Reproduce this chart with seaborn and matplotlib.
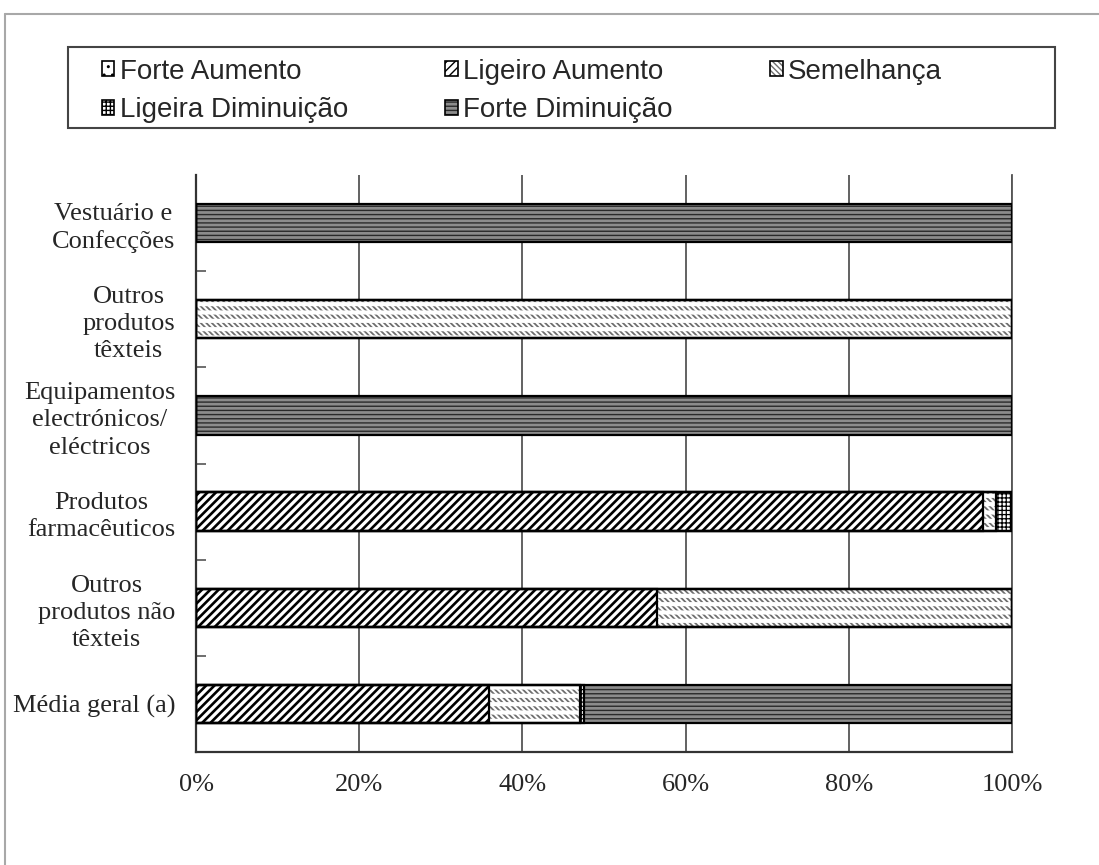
import matplotlib
matplotlib.use("Agg")
import matplotlib.pyplot as plt
from matplotlib.patches import Patch, Rectangle
from matplotlib.lines import Line2D
from matplotlib.legend_handler import HandlerTuple
from matplotlib.ticker import FixedLocator
import pandas as pd
import seaborn as sns

# ---- data (% of respondents) ----
categories = [
    "Vestuário e\nConfecções",
    "Outros\nprodutos\ntêxteis",
    "Equipamentos\nelectrónicos/\neléctricos",
    "Produtos\nfarmacêuticos",
    "Outros\nprodutos não\ntêxteis",
    "Média geral (a)",
]
forte_aumento = [0, 0, 0, 0, 0, 0]
ligeiro_aumento = [0, 0, 0, 96.4, 56.5, 35.9]
semelhanca = [0, 100, 0, 1.6, 43.5, 11.2]
ligeira_diminuicao = [0, 0, 0, 2.0, 0, 0.5]
forte_diminuicao = [100, 0, 100, 0, 0, 52.4]

series_names = ["Forte Aumento", "Ligeiro Aumento", "Semelhança",
                "Ligeira Diminuição", "Forte Diminuição"]
x_ticks = [0, 20, 40, 60, 80, 100]
x_tick_labels = ["0%", "20%", "40%", "60%", "80%", "100%"]

# fill / hatch appearance of each response class
styles = {
    "Forte Aumento": dict(face="white", hatch="..", hc="black", hlw=1.0),
    "Ligeiro Aumento": dict(face="white", hatch="////", hc="black", hlw=1.9),
    "Semelhança": dict(face="white", hatch="\\\\\\\\\\\\", hc="#6e6e6e", hlw=1.3),
    "Ligeira Diminuição": dict(face="white", hatch="++++", hc="black", hlw=0.9),
    "Forte Diminuição": dict(face="#8c8c8c", hatch="----", hc="#2a2a2a", hlw=1.0),
}

sns.set_theme(style="white")
plt.rcParams["font.family"] = ["Liberation Serif", "DejaVu Serif"]

df = pd.DataFrame({
    "categoria": categories,
    "Forte Aumento": forte_aumento,
    "Ligeiro Aumento": ligeiro_aumento,
    "Semelhança": semelhanca,
    "Ligeira Diminuição": ligeira_diminuicao,
    "Forte Diminuição": forte_diminuicao,
})
cum = df[series_names].cumsum(axis=1)
cum["categoria"] = categories

fig = plt.figure(figsize=(10.99, 8.65), dpi=100)
ax = fig.add_axes([196 / 1099, 1 - 752 / 865, (1012 - 196) / 1099, (752 - 175) / 865])


def style_new(start, hlw=None, **props):
    for p in ax.patches[start:]:
        p.set(**props)
        if hlw is not None and hasattr(p, "set_hatch_linewidth"):
            p.set_hatch_linewidth(hlw)


def bars(column, z):
    n0 = len(ax.patches)
    sns.barplot(data=cum, x=column, y="categoria", orient="h", color="white",
                saturation=1, width=0.4, errorbar=None, ax=ax, zorder=z)
    return n0


# stacked bars: draw cumulative totals from the outermost segment inwards
for name in reversed(series_names):
    st = styles[name]
    n0 = bars(name, 2)
    style_new(n0, facecolor=st["face"], edgecolor=st["hc"], hatch=st["hatch"],
              linewidth=0, hlw=st["hlw"])
    if name == "Semelhança":
        # white horizontal gaps break the diagonal strokes into rows
        n0 = bars(name, 2)
        style_new(n0, facecolor="none", edgecolor="white", hatch="--",
                  linewidth=0, hlw=3.0)

# black outlines around every segment
for name in series_names:
    n0 = bars(name, 3)
    style_new(n0, facecolor="none", edgecolor="black", hatch=None, linewidth=1.6)

# axes styling
ax.set_xlim(0, 100)
ax.set_ylim(5.5, -0.5)
ax.set_xlabel("")
ax.set_ylabel("")
ax.set_xticks(x_ticks)
ax.set_xticklabels(x_tick_labels, fontsize=19)
ax.set_yticks(range(len(categories)))
ax.set_yticklabels(categories, fontsize=19, linespacing=1.3)
for lbl in ax.get_yticklabels():
    lbl.set_multialignment("center")
ax.tick_params(axis="y", which="major", length=0, pad=15)
ax.tick_params(axis="x", which="major", length=0, pad=16)
ax.yaxis.set_minor_locator(FixedLocator([0.5, 1.5, 2.5, 3.5, 4.5]))
ax.tick_params(axis="y", which="minor", direction="in", length=7, width=1.2,
               color="#555555", left=True)
ax.xaxis.grid(True, color="#555555", linewidth=1.3, zorder=0)
ax.set_axisbelow(True)
ax.spines["top"].set_visible(False)
ax.spines["left"].set_color("#333333")
ax.spines["left"].set_linewidth(1.6)
ax.spines["bottom"].set_color("#333333")
ax.spines["bottom"].set_linewidth(1.6)
ax.spines["right"].set_color("#555555")
ax.spines["right"].set_linewidth(1.3)

# legend: hatch patch overlaid with a black outline, laid out row by row
handles = {}
for name in series_names:
    st = styles[name]
    h_fill = Patch(facecolor=st["face"], edgecolor=st["hc"], hatch=st["hatch"], linewidth=0)
    h_edge = Patch(facecolor="none", edgecolor="black", linewidth=1.2)
    handles[name] = (h_fill, h_edge)
legend_order = ["Forte Aumento", "Ligeira Diminuição", "Ligeiro Aumento",
                "Forte Diminuição", "Semelhança"]

leg = fig.legend([handles[n] for n in legend_order], legend_order, ncol=3,
                 loc="center left", bbox_to_anchor=(88 / 1099, 1 - 91 / 865),
                 frameon=False, borderpad=0, handlelength=0.45, handleheight=0.45,
                 handletextpad=0.2, columnspacing=3.5, labelspacing=0.45,
                 prop={"family": ["Liberation Sans", "DejaVu Sans"], "size": 20},
                 handler_map={tuple: HandlerTuple(ndivide=1, pad=0)})
fig.add_artist(Rectangle((68 / 1099, 1 - 128 / 865), (1055 - 68) / 1099, 81 / 865,
                         transform=fig.transFigure, fill=False,
                         edgecolor="#444444", linewidth=1.5))

# outer chart-area border (top and left edges)
fig.add_artist(Line2D([5 / 1099, 5 / 1099], [0, 1 - 14 / 865],
                      transform=fig.transFigure, color="#a8a8a8", linewidth=1.5))
fig.add_artist(Line2D([5 / 1099, 1], [1 - 14 / 865, 1 - 14 / 865],
                      transform=fig.transFigure, color="#a8a8a8", linewidth=1.5))

fig.savefig("out.png", dpi=100, facecolor="white")
